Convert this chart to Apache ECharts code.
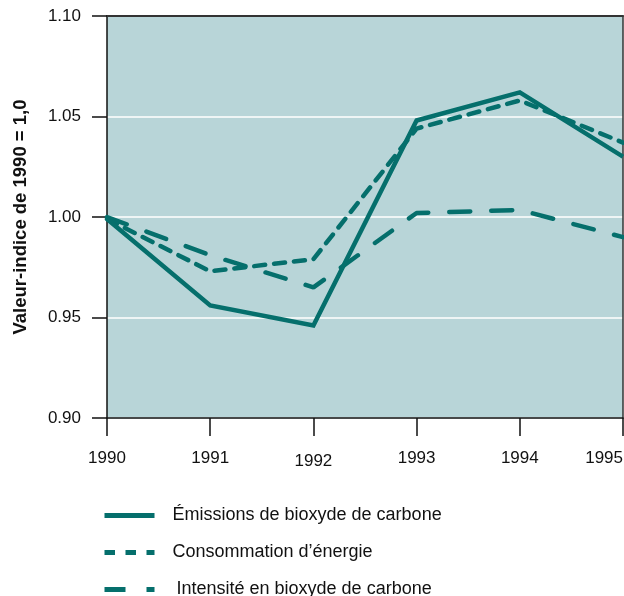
<!DOCTYPE html>
<html>
<head>
<meta charset="utf-8">
<script src="https://cdn.jsdelivr.net/npm/echarts@6/dist/echarts.min.js"></script>
<style>
html,body{margin:0;padding:0;background:#fff;}
#c{width:624px;height:596px;}
</style>
</head>
<body>
<div id="c"></div>
<script>
var years = ['1990', '1991', '1992', '1993', '1994', '1995'];
var emissions = [0.999, 0.956, 0.946, 1.048, 1.062, 1.030];
var energie = [0.999, 0.973, 0.979, 1.044, 1.058, 1.037];
var intensite = [1.000, 0.981, 0.965, 1.002, 1.0035, 0.990];
var yTicks = [0.90, 0.95, 1.00, 1.05, 1.10];
var names = ['Émissions de bioxyde de carbone', 'Consommation d\u2019énergie', 'Intensité en bioxyde de carbone'];

var teal = '#056f6c';
var font = '"Liberation Sans", Arial, sans-serif';

function legendRow(name, top, dash, textPad) {
  return {
    orient: 'vertical', left: 102, top: top, padding: 0,
    itemWidth: 50, itemHeight: 14, itemGap: 0,
    itemStyle: {opacity: 0, color: 'rgba(0,0,0,0)', borderWidth: 0},
    textStyle: {fontFamily: font, fontSize: 18, color: '#111', padding: [0, 0, 0, textPad]},
    data: [{name: name, lineStyle: {width: 5, cap: 'butt', type: dash}}]
  };
}

var chart = echarts.init(document.getElementById('c'), null, {renderer: 'canvas'});
chart.setOption({
  animation: false,
  backgroundColor: '#ffffff',
  grid: {
    left: 107, right: 1, top: 16, bottom: 178,
    outerBoundsMode: 'none',
    show: true, backgroundColor: '#b8d5d8', borderWidth: 0
  },
  legend: [
    legendRow(names[0], 506.5, 'solid', 13),
    legendRow(names[1], 543.5, [10.5, 10.5], 13),
    legendRow(names[2], 580.5, [21, 21], 17)
  ],
  xAxis: [{
    type: 'category', data: years, boundaryGap: false,
    axisLine: {lineStyle: {color: '#111', width: 1.5}},
    axisTick: {length: 18, lineStyle: {color: '#111', width: 1.5}},
    axisLabel: {
      interval: 0, alignMaxLabel: 'right',
      fontFamily: font, fontSize: 17, color: '#111', margin: 32,
      formatter: function (v) { return v === '1992' ? '{low|' + v + '}' : v; },
      rich: {low: {fontFamily: font, fontSize: 17, color: '#111', padding: [3, 0, 0, 0]}}
    },
    splitLine: {show: false}
  }, {
    type: 'category', data: years, boundaryGap: false, position: 'top',
    axisLine: {show: true, lineStyle: {color: '#333', width: 2}},
    axisTick: {show: false}, axisLabel: {show: false}, splitLine: {show: false}
  }],
  yAxis: [{
    type: 'value', min: yTicks[0], max: yTicks[yTicks.length - 1], interval: 0.05,
    name: 'Valeur-indice de 1990 = 1,0', nameLocation: 'middle', nameGap: 77,
    nameTextStyle: {fontFamily: font, fontSize: 18.5, fontWeight: 'bold', color: '#111', padding: [0, 0, 0, 0]},
    axisLine: {show: true, lineStyle: {color: '#111', width: 1.5}},
    axisTick: {show: true, length: 15, lineStyle: {color: '#111', width: 1.5}},
    axisLabel: {
      fontFamily: font, fontSize: 17, color: '#111', margin: 26,
      formatter: function (v) { return v.toFixed(2); }
    },
    splitLine: {show: true, lineStyle: {color: '#eef5f5', width: 2}}
  }, {
    type: 'value', min: yTicks[0], max: yTicks[yTicks.length - 1], interval: 0.05, position: 'right',
    axisLine: {show: true, lineStyle: {color: '#333', width: 1.5}},
    axisTick: {show: false}, axisLabel: {show: false}, splitLine: {show: false}
  }],
  series: [
    {name: names[2], type: 'line', data: intensite, symbol: 'none',
     lineStyle: {color: teal, width: 4.5, type: [21, 21], cap: 'round'}, itemStyle: {color: teal}},
    {name: names[1], type: 'line', data: energie, symbol: 'none',
     lineStyle: {color: teal, width: 4.5, type: [11, 9], cap: 'round'}, itemStyle: {color: teal}},
    {name: names[0], type: 'line', data: emissions, symbol: 'none',
     lineStyle: {color: teal, width: 4.5, type: 'solid', join: 'miter'}, itemStyle: {color: teal}}
  ]
});
</script>
</body>
</html>
